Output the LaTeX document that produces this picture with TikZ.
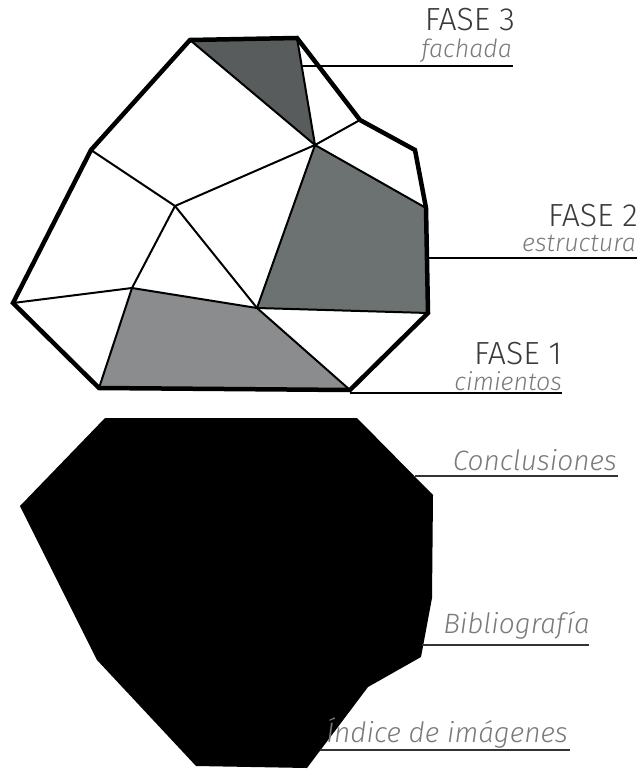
\documentclass[tikz,border=0pt]{standalone}
\usepackage{fontspec}
\setmainfont{Fira Sans}[UprightFont=* Light, ItalicFont=* Light Italic]
\usepackage{tikz}
\usepackage{xcolor}
\usetikzlibrary{positioning, calc}
\definecolor{fasetres}{RGB}{88,92,93}
\definecolor{fasedos}{RGB}{108,113,113}
\definecolor{faseuno}{RGB}{139,140,142}
\definecolor{titlegray}{RGB}{58,58,58}
\definecolor{subgray}{RGB}{122,122,122}

\tikzset{
    outline/.style={line width=4.5pt, line join=miter},
    inner/.style={line width=2pt},
    leader/.style={line width=2pt, black},
    leaderlow/.style={line width=1.6pt, black!80},
    phase/.style={anchor=base east, inner sep=0pt, text=titlegray, font=\fontsize{32}{32}\selectfont},
    sub/.style={anchor=base east, inner sep=0pt, text=subgray, font=\itshape\fontsize{25}{25}\selectfont},
    chapter/.style={anchor=base east, inner sep=0pt, text=subgray, font=\itshape\fontsize{28}{28}\selectfont}
}

\begin{document}
\begin{tikzpicture}[x=1pt, y=-1pt]
        % Frame
        \fill[white] (0,0) rectangle (644,770);
        \useasboundingbox (0,0) rectangle (644,770);

        % Outer points of the upper shape
        \coordinate (a) at (190,40);
        \coordinate (b) at (297,38);
        \coordinate (c) at (360,120);
        \coordinate (d) at (415,150);
        \coordinate (e) at (426,208);
        \coordinate (f) at (428,313);
        \coordinate (g) at (350,390);
        \coordinate (h) at (99,388);
        \coordinate (i) at (13,303);
        \coordinate (j) at (91,150);

        % Inner points
        \coordinate (k) at (315,145);
        \coordinate (l) at (175,206);
        \coordinate (m) at (132,288);
        \coordinate (n) at (257,308);

        % Phase fills
        \fill[fasetres] (a) -- (b) -- (k) -- cycle;
        \fill[fasedos] (k) -- (e) -- (f) -- (n) -- cycle;
        \fill[faseuno] (m) -- (n) -- (g) -- (h) -- cycle;

        % Inner lines
        \draw[inner] (a) -- (k) -- (b);
        \draw[inner] (c) -- (k) -- (e);
        \draw[inner] (k) -- (n) -- (f);
        \draw[inner] (j) -- (l) -- (k);
        \draw[inner] (l) -- (m) -- (i);
        \draw[inner] (l) -- (n) -- (g);
        \draw[inner] (h) -- (m) -- (n);

        % Outline
        \draw[outline] (a) -- (b) -- (c) -- (d) -- (e) -- (f) -- (g) -- (h) -- (i) -- (j) -- cycle;

        % Lower shape
        \fill[black] (105,418) -- (357,418) -- (433,495) -- (432,598) -- (421,657)
            -- (368,687) -- (307,768) -- (196,766) -- (97,660) -- (20,506) -- cycle;

        % Leader ends
        \coordinate (s3) at (302,66);   \coordinate (e3) at (513,66);
        \coordinate (s2) at (428,258);  \coordinate (e2) at (637,258);
        \coordinate (s1) at (350,393);  \coordinate (e1) at (562,393);
        \coordinate (sc) at (415,476);  \coordinate (ec) at (618,476);
        \coordinate (sb) at (422,645);  \coordinate (eb) at (589,645);
        \coordinate (si) at (320,750);  \coordinate (ei) at (570,750);

        % Labels
        \node[phase] (fase3) at (515,31) {FASE 3};
        \node[sub] (fachada) at (512,58) {fachada};
        \node[phase] (fase2) at (638,226) {FASE 2};
        \node[sub] (estructura) at (636,251) {estructura};
        \node[phase] (fase1) at (562,364) {FASE 1};
        \node[sub] (cimientos) at (562,390) {cimientos};
        \node[chapter] (conclusiones) at (617,470) {Conclusiones};
        \node[chapter] (biblio) at (590,633) {Bibliografía};
        \node[chapter] (indice) at (568,742) {Índice de imágenes};

        % Leaders
        \draw[leader] (s3) -- (e3);
        \draw[leader] (s2) -- (e2);
        \draw[leader] (s1) -- (e1);
        \draw[leaderlow] (sc) -- (ec);
        \draw[leaderlow] (sb) -- (eb);
        \draw[leaderlow] (si) -- (ei);

\end{tikzpicture}
\end{document}
